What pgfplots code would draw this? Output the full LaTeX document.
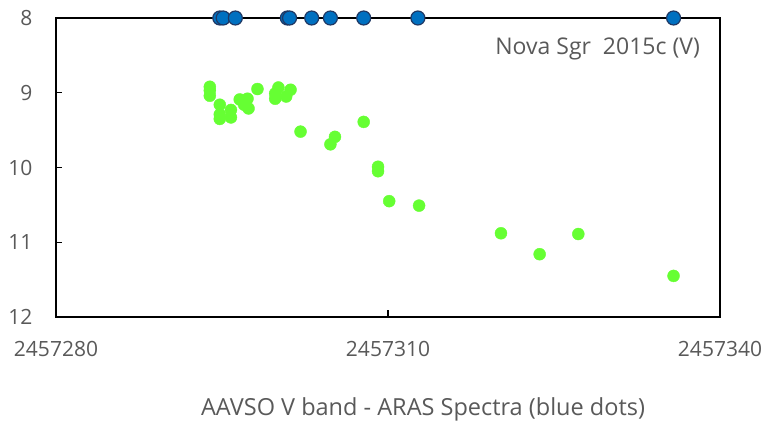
\documentclass[border=0pt]{standalone}
\usepackage{fontspec}
\setmainfont{Open Sans}
\usepackage{pgfplots}
\pgfplotsset{compat=1.18}
\definecolor{txtgray}{RGB}{89,89,89}
\definecolor{ggreen}{RGB}{102,255,51}
\definecolor{bblue}{RGB}{0,112,192}
\definecolor{bedge}{RGB}{31,56,100}
\begin{document}
\begin{tikzpicture}
\begin{axis}[
  width=664bp, height=299bp, scale only axis,
  xmin=2457280, xmax=2457340, ymin=8, ymax=12,
  y dir=reverse,
  xtick={2457280,2457310,2457340},
  ytick={8,9,10,11,12},
  scaled x ticks=false,
  xtick pos=bottom, ytick pos=left,
  tick align=inside,
  major tick length=7bp,
  tick style={black, line width=1.5bp},
  axis line style={black, line width=2.2bp},
  /pgf/number format/assume math mode=true,
  /pgf/number format/1000 sep={},
  /pgf/number format/fixed,
  /pgf/number format/precision=0,
  ticklabel style={font=\fontsize{21bp}{25bp}\selectfont, text=txtgray},
  xticklabel style={yshift=-21bp},
  yticklabel style={xshift=-20bp},
  clip=false,
]
\addplot[only marks, color=ggreen, mark=*, mark size=6bp, mark options={fill=ggreen, draw=ggreen}] coordinates {
(2457293.9,8.92) (2457293.9,8.97) (2457293.9,9.04)
(2457294.8,9.16) (2457294.8,9.29) (2457294.8,9.35)
(2457295.8,9.23) (2457295.8,9.33)
(2457296.6,9.09) (2457297.0,9.12) (2457297.3,9.08) (2457297.0,9.16) (2457297.4,9.21)
(2457298.2,8.95)
(2457299.8,9.01) (2457299.8,9.08) (2457300.1,8.93)
(2457300.8,9.05) (2457301.2,8.96)
(2457302.1,9.52)
(2457305.2,9.59) (2457304.8,9.69)
(2457307.8,9.39)
(2457309.1,9.99) (2457309.1,10.05)
(2457310.1,10.45)
(2457312.8,10.51)
(2457320.2,10.88)
(2457323.7,11.16)
(2457327.2,10.89)
(2457335.8,11.45)
};
\addplot[only marks, color=bedge, mark=*, mark size=7bp, mark options={fill=bblue, draw=bedge, line width=1.2bp}] coordinates {
(2457294.8,8) (2457295.1,8) (2457296.2,8)
(2457300.9,8) (2457301.1,8) (2457303.1,8)
(2457304.8,8) (2457307.8,8) (2457312.7,8) (2457335.8,8)
};
\end{axis}
\node[anchor=east, text=txtgray, font=\fontsize{23bp}{27bp}\selectfont, inner sep=0pt] at ([shift={(-20bp,-31bp)}]current axis.north east) {Nova Sgr\ \ 2015c (V)};
\node[text=txtgray, font=\fontsize{23.5bp}{28bp}\selectfont, inner sep=0pt] at ([shift={(367bp,-92bp)}]current axis.south west) {AAVSO V band - ARAS Spectra (blue dots)};
\pgfresetboundingbox
\path[use as bounding box] ([shift={(-56bp,-106bp)}]current axis.south west) rectangle ([shift={(44bp,18bp)}]current axis.north east);
\end{tikzpicture}
\end{document}
